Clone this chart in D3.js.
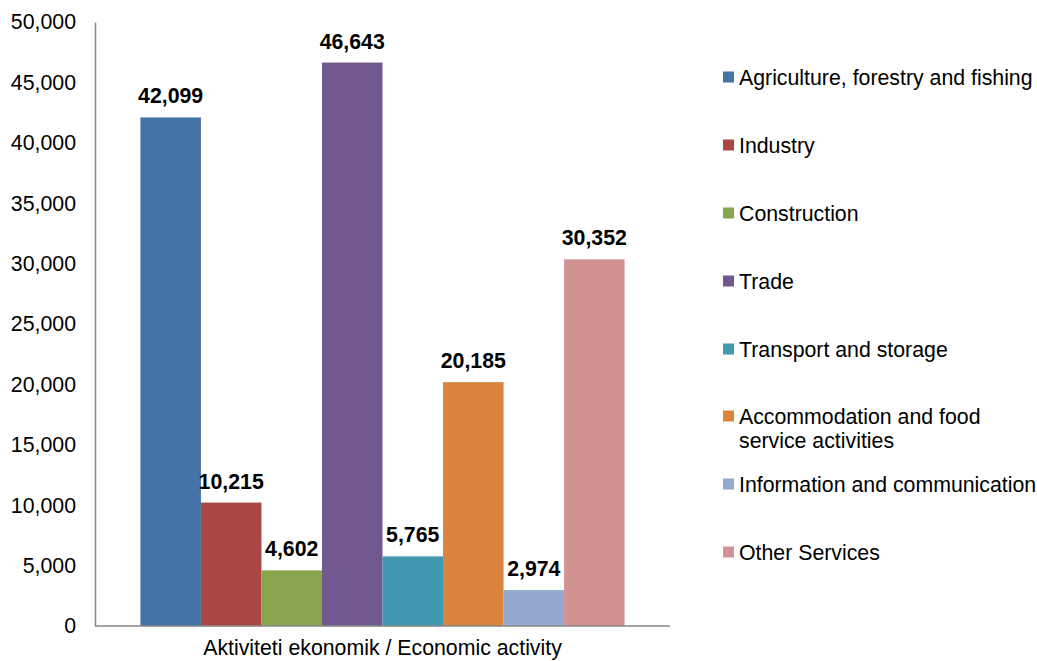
<!DOCTYPE html>
<html><head><meta charset="utf-8">
<script src="https://cdn.jsdelivr.net/npm/d3@7"></script>
<style>body{margin:0;background:#fff;font-family:"Liberation Sans",Arial,sans-serif;}</style>
</head><body>
<svg id="c" width="1037" height="661"></svg>
<script>
const series = ["Agriculture, forestry and fishing","Industry","Construction","Trade","Transport and storage","Accommodation and food service activities","Information and communication","Other Services"];
const legendLines = [["Agriculture, forestry and fishing"],["Industry"],["Construction"],["Trade"],["Transport and storage"],["Accommodation and food","service activities"],["Information and communication"],["Other Services"]];
const values = [42099,10215,4602,46643,5765,20185,2974,30352];
const colors = ["#4572A7","#AA4643","#89A54E","#71588F","#4198AF","#DB843D","#93A9CF","#D19392"];
const yTicks = [0,5000,10000,15000,20000,25000,30000,35000,40000,45000,50000];
const category = "Aktiviteti ekonomik / Economic activity";

const svg = d3.select("#c");
const pL = 95, pR = 670, pT = 22, pB = 626;
const y = d3.scaleLinear().domain([0,50000]).range([pB, pT]);
const x = d3.scaleBand().domain(series).range([pL, pR]).paddingInner(0).paddingOuter(0.75);
const fmt = d3.format(",");
const FF = "Liberation Sans, Arial, sans-serif";
const FS = "21.3px";

// y axis
const yAxis = svg.append("g").attr("transform",`translate(${pL},0)`)
  .call(d3.axisLeft(y).tickValues(yTicks).tickFormat(fmt).tickSize(0).tickPadding(19));
yAxis.select(".domain").attr("stroke","#868686").attr("stroke-width",1.5);
yAxis.selectAll("text").attr("font-size",FS).attr("fill","#000").attr("font-family",FF);

// bars
svg.selectAll("rect.bar").data(values).enter().append("rect").attr("class","bar")
  .attr("x",(d,i)=>x(series[i])).attr("width",x.bandwidth())
  .attr("y",d=>y(d)).attr("height",d=>pB-y(d))
  .attr("fill",(d,i)=>colors[i]);

// x axis line
svg.append("line").attr("x1",pL).attr("x2",pR).attr("y1",pB).attr("y2",pB)
  .attr("stroke","#868686").attr("stroke-width",1.5);

// value labels
svg.selectAll("text.val").data(values).enter().append("text").attr("class","val")
  .attr("x",(d,i)=>x(series[i])+x.bandwidth()/2).attr("y",d=>y(d)-14)
  .attr("text-anchor","middle").attr("font-weight","bold").attr("font-size",FS)
  .attr("font-family",FF)
  .text(d=>fmt(d));

// category label
svg.append("text").attr("x",(pL+pR)/2).attr("y",655).attr("text-anchor","middle")
  .attr("font-size",FS).attr("font-family",FF).text(category);

// legend
const legY = [77,145,213,281,349,416,484,552];
const lg = svg.append("g");
legendLines.forEach((lines,i)=>{
  lg.append("rect").attr("x",723).attr("y",legY[i]-5.5).attr("width",11).attr("height",11).attr("fill",colors[i]);
  const t = lg.append("text").attr("x",739).attr("y",legY[i]+7.5).attr("font-size",FS)
    .attr("font-family",FF);
  lines.forEach((l,j)=>t.append("tspan").attr("x",739).attr("dy",j===0?0:24).text(l));
});
</script>
</body></html>
